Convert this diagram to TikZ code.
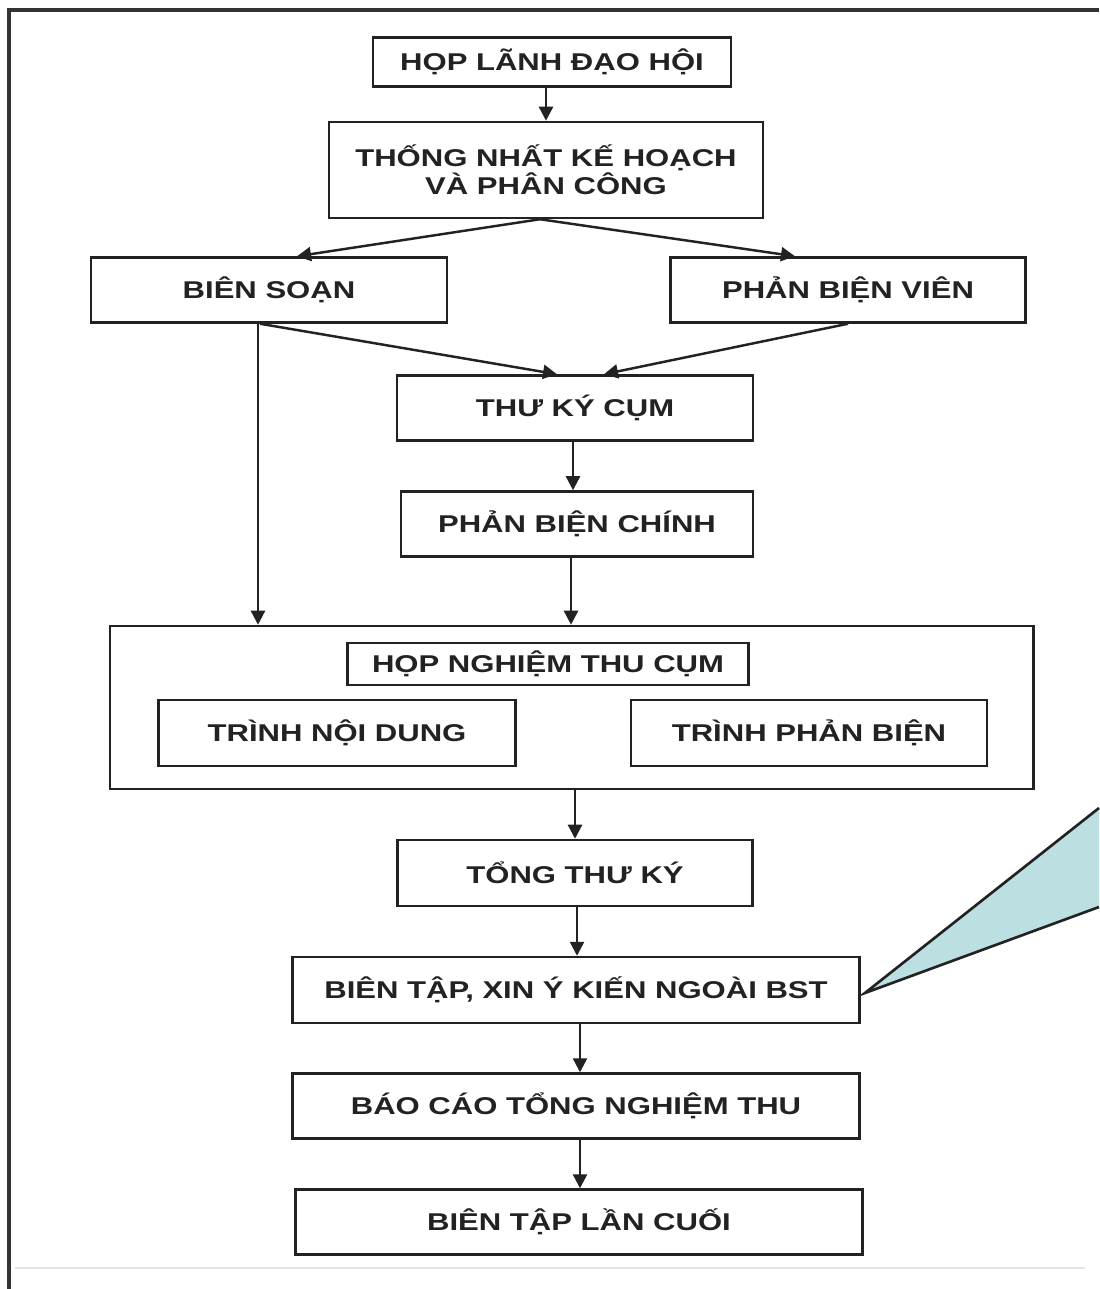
\documentclass[tikz,border=0pt]{standalone}
\usepackage{fontspec}
\setmainfont{Liberation Sans}
\newfontfamily\boxfont{Liberation Sans}[FakeStretch=1.28]
\usepackage{tikz}
\usepackage{xcolor}
\usetikzlibrary{arrows.meta,positioning,calc}
\definecolor{ink}{HTML}{222222}
\definecolor{framegray}{HTML}{333333}
\definecolor{rulegray}{HTML}{E2E2E2}
\definecolor{calloutbg}{HTML}{BCDFE2}
\tikzset{
  stepbox/.style={draw=ink,fill=white,line width=0.7pt,inner sep=0pt,
                  align=center,minimum height=0.65cm,text=ink,
                  font=\boxfont\fontsize{6.9}{8}\selectfont\bfseries},
  groupbox/.style={draw=ink,line width=0.7pt,inner sep=0pt},
  blackarr/.style={-{Triangle[length=1.4mm,width=1.4mm]},line width=0.7pt,
                   draw=ink},
  frameline/.style={line width=0.9pt,draw=framegray},
  callout/.style={fill=calloutbg}
}
\begin{document}
\begin{tikzpicture}[x=0.01cm,y=-0.01cm]
    \useasboundingbox[fill=white] (0,0) rectangle (1099,1289);
    \draw[frameline] (9,1289) -- (9,10) -- (1099,10);
    \draw[rulegray,line width=0.4pt] (15,1268) -- (1085,1268);

    \node[stepbox,minimum width=3.58cm,minimum height=0.49cm] (lead) at (552,62)
      {HỌP LÃNH ĐẠO HỘI};
    \node[stepbox,minimum width=4.34cm,minimum height=0.96cm] (plan) at (546,170)
      {THỐNG NHẤT KẾ HOẠCH\\VÀ PHÂN CÔNG};
    \node[stepbox,minimum width=3.56cm] (compose) at (269,290) {BIÊN SOẠN};
    \node[stepbox,minimum width=3.55cm] (reviewer) at (848,290) {PHẢN BIỆN VIÊN};
    \node[stepbox,minimum width=3.56cm] (clerk) at (575,408) {THƯ KÝ CỤM};
    \node[stepbox,minimum width=3.52cm] (mainrev) at (577,524) {PHẢN BIỆN CHÍNH};

    \node[groupbox,minimum width=9.23cm,minimum height=1.63cm] (meeting) at (571.5,707.5) {};
    \node[stepbox,minimum width=4.01cm,minimum height=0.42cm] (meettitle) at (548,664)
      {HỌP NGHIỆM THU CỤM};
    \node[stepbox,minimum width=3.57cm,minimum height=0.66cm] (content) at (337,733)
      {TRÌNH NỘI DUNG};
    \node[stepbox,minimum width=3.56cm,minimum height=0.66cm] (present) at (809,733)
      {TRÌNH PHẢN BIỆN};

    \node[stepbox,minimum width=3.55cm,minimum height=0.66cm] (gensec) at (575,873)
      {TỔNG THƯ KÝ};
    \node[stepbox,minimum width=5.67cm,minimum height=0.66cm] (edit) at (576,990)
      {BIÊN TẬP, XIN Ý KIẾN NGOÀI BST};
    \node[stepbox,minimum width=5.67cm] (report) at (576,1106)
      {BÁO CÁO TỔNG NGHIỆM THU};
    \node[stepbox,minimum width=5.67cm] (final) at (579,1222)
      {BIÊN TẬP LẦN CUỐI};

    \draw[blackarr] (lead.south -| plan) -- (plan.north);
    \draw[blackarr] ([xshift=-0.06cm]plan.south) -- ([xshift=0.28cm]compose.north);
    \draw[blackarr] ([xshift=-0.06cm]plan.south) -- ([xshift=-0.53cm]reviewer.north);
    \draw[blackarr] ([xshift=-0.09cm]compose.south) -- ([xshift=-0.18cm]clerk.north);
    \draw[blackarr] (reviewer.south) -- ([xshift=0.29cm]clerk.north);
    \draw[blackarr] ([xshift=-0.11cm]compose.south)
      -- ([xshift=-0.11cm]compose.south |- meeting.north);
    \draw[blackarr] ([xshift=-0.02cm]clerk.south) -- ([xshift=-0.02cm]clerk.south |- mainrev.north);
    \draw[blackarr] ([xshift=-0.06cm]mainrev.south) -- ([xshift=-0.06cm]mainrev.south |- meeting.north);
    \draw[blackarr] (meeting.south -| gensec) -- (gensec.north);
    \draw[blackarr] ([xshift=0.02cm]gensec.south) -- ([xshift=0.02cm]gensec.south |- edit.north);
    \draw[blackarr] ([xshift=0.04cm]edit.south) -- ([xshift=0.04cm]edit.south |- report.north);
    \draw[blackarr] ([xshift=0.04cm]report.south) -- ([xshift=0.04cm]report.south |- final.north);

    % callout pointer, its box lies off the page
    \coordinate (tip) at ([xshift=0.04cm,yshift=-0.03cm]edit.east);
    \coordinate (ctop) at (1099,808);
    \coordinate (cbot) at (1099,907);
    \fill[callout] (tip) -- (ctop) -- (cbot) -- cycle;
    \draw[ink,line width=0.75pt,line join=miter] (ctop) -- (tip) -- (cbot);
\end{tikzpicture}
\end{document}
